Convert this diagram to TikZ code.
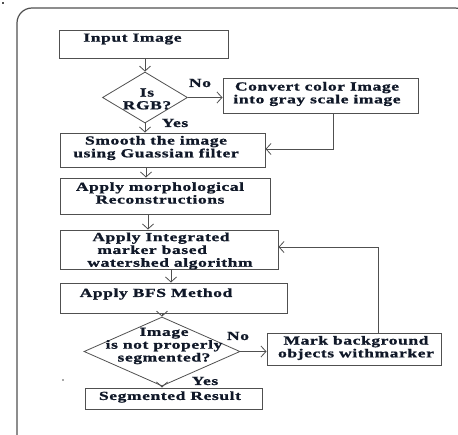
\documentclass[tikz,border=0pt]{standalone}
\usepackage{fontspec}
\setmainfont{Liberation Serif}
\newfontfamily\ff[FakeStretch=1.42,LetterSpace=5,FakeBold=1.2]{Liberation Serif}
\usetikzlibrary{arrows.meta}
\definecolor{ln}{HTML}{505050}
\definecolor{tx}{HTML}{101828}
\tikzset{
  box/.style={draw=ln, line width=1pt, rectangle, inner sep=0pt},
  dia/.style={draw=ln, line width=0.8pt, diamond, inner sep=0pt},
  lbl/.style={text=tx, inner sep=0pt, font=\ff\bfseries\fontsize{12.3}{12.8}\selectfont, align=center},
  arr/.style={draw=ln, line width=1pt, -{Straight Barb[length=5pt,width=11pt,line width=0.8pt]}},
}
\usetikzlibrary{shapes.geometric}
\begin{document}
\begin{tikzpicture}[x=1pt,y=-1pt]
\useasboundingbox (0,0) rectangle (458,434);
\begin{scope}
\clip (0,0) rectangle (458,434);
\draw[ln, line width=1.2pt, rounded corners=15pt] (17,8) rectangle (470,450);
\end{scope}
\fill[ln] (1.5,1.5) rectangle (4,4);
\fill[ln] (63,380) circle (0.8pt);
% boxes
\node[box, minimum width=169pt, minimum height=28pt] (inp) at (143.5,44) {};
\node[dia, minimum width=85pt, minimum height=51pt] (d1) at (145,97.5) {};
\node[box, minimum width=195pt, minimum height=35pt] (conv) at (320.5,95.5) {};
\node[box, minimum width=205pt, minimum height=34pt] (smooth) at (162.5,150) {};
\node[box, minimum width=210pt, minimum height=36pt] (morph) at (165,196) {};
\node[box, minimum width=218pt, minimum height=39pt] (integ) at (169,249.5) {};
\node[box, minimum width=227pt, minimum height=30pt] (bfs) at (173.5,298) {};
\node[dia, minimum width=156pt, minimum height=69pt] (d2) at (162,351.5) {};
\node[box, minimum width=174pt, minimum height=32pt] (mark) at (354,349) {};
\node[box, minimum width=177pt, minimum height=21pt] (seg) at (173.5,398.5) {};
% texts
\node[lbl] (tinp) at (132.5,39) {Input Image};
\node[lbl] (td1) at (147,99) {Is\\RGB?};
\node[lbl] (tconv) at (317,94) {Convert color Image\\into gray scale image};
\node[lbl] (tsmooth) at (156,148) {Smooth the image\\using Guassian filter};
\node[lbl] (tmorph) at (160,193) {Apply morphological\\Reconstructions};
\node[lbl, align=left] (tinteg) at (170,251) {\hspace*{5pt}Apply Integrated\\\hspace*{10pt}marker based\\watershed algorithm};
\node[lbl] (tbfs) at (156,294) {Apply BFS Method};
\node[lbl] (td2) at (164,346) {Image\\is not properly\\segmented?};
\node[lbl] (tmark) at (356,348) {Mark background\\objects withmarker};
\node[lbl] (tseg) at (170,397) {Segmented Result};
\node[lbl] (no1) at (200,83) {No};
\node[lbl] (yes1) at (175,123) {Yes};
\node[lbl] (no2) at (238,336) {No};
\node[lbl] (yes2) at (205,381) {Yes};
% connectors
\draw[arr] (inp.south -| d1.north) -- (d1.north);
\draw[arr] (d1.south) -- (d1.south |- smooth.north);
\draw[arr] (d1.east) -- (d1.east -| conv.west);
\coordinate (c1) at (333,149);
\draw[arr] (conv.south -| c1) -- (c1) -- (c1 -| smooth.east);
\draw[arr] ([xshift=-16.5pt]smooth.south) -- ([xshift=-16.5pt]smooth.south |- morph.north);
\draw[arr] ([xshift=-17pt]morph.south) -- ([xshift=-17pt]morph.south |- integ.north);
\draw[arr] ([xshift=2pt]integ.south) -- ([xshift=2pt]integ.south |- bfs.north);
\draw[arr] (bfs.south -| d2.north) -- (d2.north);
\draw[arr] (d2.east) -- (d2.east -| mark.west);
\draw[arr] (d2.south) -- (d2.south |- seg.north);
\coordinate (c2) at (378,247);
\draw[arr] (mark.north -| c2) -- (c2) -- (c2 -| integ.east);
\end{tikzpicture}
\end{document}
